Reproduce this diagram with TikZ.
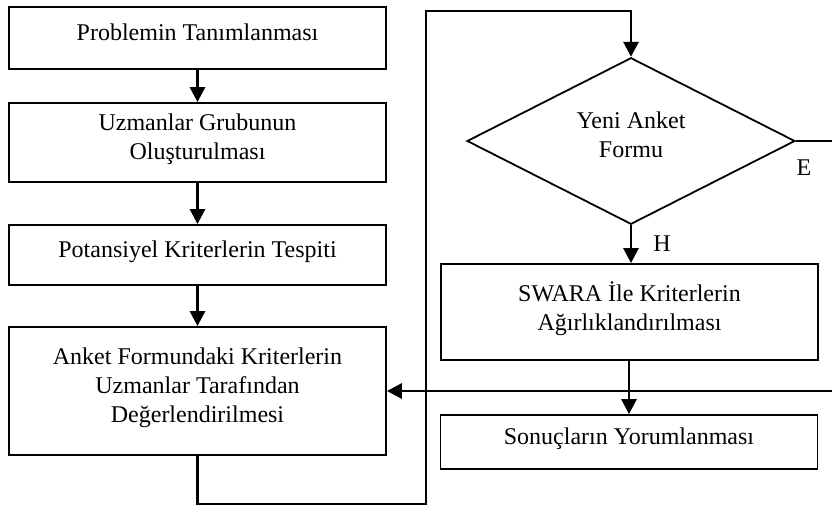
\documentclass[tikz,border=0pt]{standalone}
\usepackage{fontspec}
\setmainfont{Liberation Serif}
\usetikzlibrary{arrows.meta,shapes.geometric,positioning}
\tikzset{
  stepbox/.style={rectangle,draw=black,line width=0.9pt,fill=white,
              minimum width=188.5pt,minimum height=#1,align=center,
              font=\fontsize{12}{14.5}\selectfont,text depth=6pt,inner sep=2pt},
  stepbox/.default=30pt,
  decide/.style={diamond,draw=black,line width=0.9pt,fill=white,
              minimum width=164pt,minimum height=83pt,inner sep=0pt,
              align=center,font=\fontsize{12}{14.5}\selectfont,text depth=6pt},
  flow/.style={-{Triangle[length=7.5pt,width=7.5pt]},line width=1.4pt,black},
  tag/.style={font=\fontsize{12}{14.5}\selectfont},
}
\begin{document}
\begin{tikzpicture}[x=0.5pt,y=-0.5pt]
    \useasboundingbox (0,0) rectangle (832,505);
    \clip (0,0) rectangle (832,505);

    \node[stepbox=31pt] (prob) at (197.5,38)  {Problemin Tanımlanması};
    \node[stepbox=39.5pt] (grup) at (197.5,142.5) {Uzmanlar Grubunun\\Oluşturulması};
    \node[stepbox=30pt] (pot)  at (197.5,255) {Potansiyel Kriterlerin Tespiti};
    \node[stepbox=64pt] (deg)  at (197.5,391) {Anket Formundaki Kriterlerin\\Uzmanlar Tarafından\\Değerlendirilmesi};
    \node[decide]       (yeni) at (631,141)   {Yeni Anket\\Formu};
    \node[stepbox=48pt] (swara) at (629.5,312) {SWARA İle Kriterlerin\\Ağırlıklandırılması};
    \node[stepbox=27pt] (son)  at (629,442)   {Sonuçların Yorumlanması};

    \node[tag] (e) at (804,168) {E};
    \node[tag] (h) at (662,244) {H};

    \foreach \a/\b in {prob/grup,grup/pot,pot/deg}
      \draw[flow] (\a) -- (\b);
    \draw[flow] (yeni.south) -- (yeni.south |- swara.north);
    \draw[flow] (swara.south -| son.north) -- (son.north);

    % loop back up to the decision
    \draw[flow] (deg.south) -- ++(0,48) -| (426,11) -| (yeni.north);

    % E branch returns to the evaluation step
    \draw[flow] (yeni.east) -- ++(60,0) |- (deg.east);

  \end{tikzpicture}
\end{document}
